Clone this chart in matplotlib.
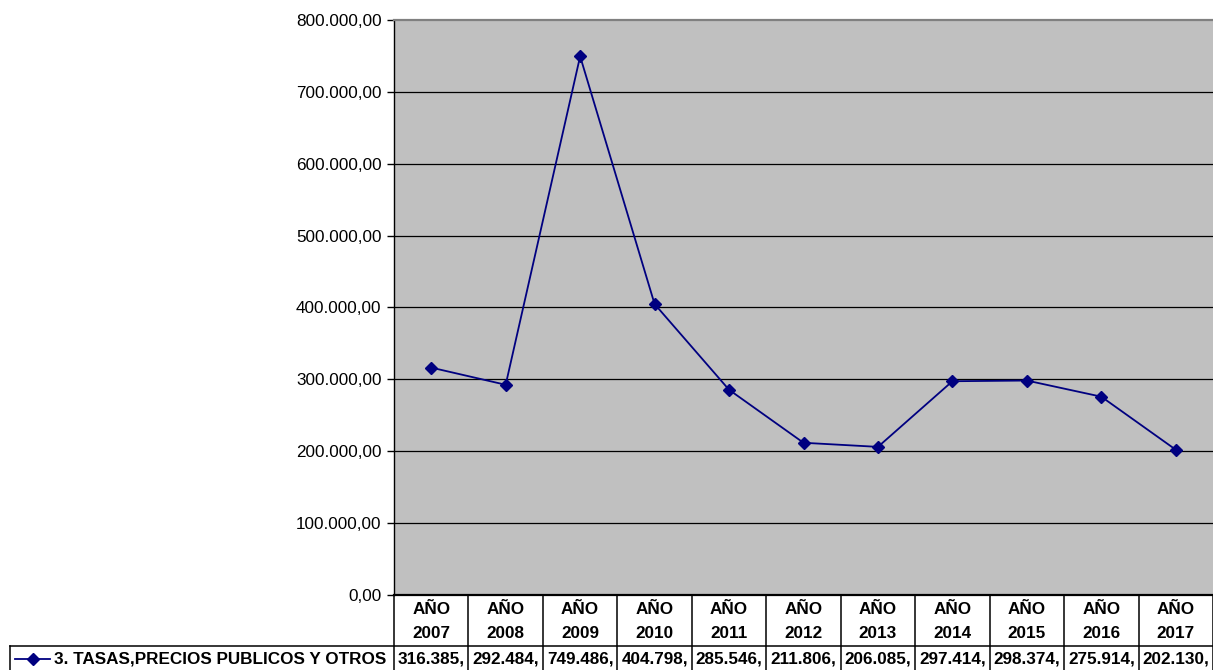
import matplotlib
matplotlib.use("Agg")
import matplotlib.pyplot as plt
from matplotlib.lines import Line2D
from matplotlib.ticker import FuncFormatter

plt.rcParams['font.family'] = ['Liberation Sans', 'DejaVu Sans']

years = ["2007", "2008", "2009", "2010", "2011", "2012", "2013", "2014", "2015", "2016", "2017"]
values = [316385, 292484, 749486, 404798, 285546, 211806, 206085, 297414, 298374, 275914, 202130]
series_name = "3. TASAS,PRECIOS PUBLICOS Y OTROS"
y_ticks = [0, 100000, 200000, 300000, 400000, 500000, 600000, 700000, 800000]

W, H = 1213, 670
FS = 12.3
fig = plt.figure(figsize=(W / 100, H / 100), dpi=100)

# plot area in pixel coordinates
left, right, top, bottom = 394, 1213, 20, 595
ax = fig.add_axes([left / W, 1 - bottom / H, (right - left) / W, (bottom - top) / H])
ax.set_facecolor("#C0C0C0")

x = list(range(len(years)))
ax.plot(x, values, color="#000080", lw=1.3, marker="D", ms=5.8,
        markerfacecolor="#000080", markeredgecolor="#000080", zorder=3)

ax.set_xlim(-0.5, len(years) - 0.5)
ax.set_ylim(0, 800000)
ax.set_yticks(y_ticks)


def es_fmt(v, pos):
    s = f"{v:,.2f}"
    return s.replace(",", "X").replace(".", ",").replace("X", ".")


ax.yaxis.set_major_formatter(FuncFormatter(es_fmt))
ax.tick_params(axis="y", direction="out", length=5, width=1, color="black",
               labelsize=FS, pad=4)
ax.set_xticks([])
for yv in y_ticks[1:-1]:
    ax.axhline(yv, color="black", lw=0.9, zorder=1)

ax.spines["top"].set_color("#808080")
ax.spines["top"].set_linewidth(1.6)
ax.spines["right"].set_visible(False)
ax.spines["left"].set_color("black")
ax.spines["left"].set_linewidth(1.0)
ax.spines["bottom"].set_color("black")
ax.spines["bottom"].set_linewidth(1.6)

# data table below the plot
def px(xp):
    return xp / W


def py(yp):
    return 1 - yp / H


col_w = (right - left) / len(years)
row_y = 646
line_kw = dict(color="black", lw=1.1, transform=fig.transFigure)

for i in range(len(years) + 1):
    xb = left + i * col_w
    fig.add_artist(Line2D([px(xb), px(xb)], [py(bottom), py(H)], **line_kw))
fig.add_artist(Line2D([px(10), px(right)], [py(row_y), py(row_y)], **line_kw))
fig.add_artist(Line2D([px(10), px(10)], [py(row_y), py(H)], **line_kw))

for i, (yr, v) in enumerate(zip(years, values)):
    xc = left + (i + 0.5) * col_w
    fig.text(px(xc), py(609), "AÑO", ha="center", va="center",
             fontsize=FS, fontweight="bold")
    fig.text(px(xc), py(633), yr, ha="center", va="center",
             fontsize=FS, fontweight="bold")
    lab = f"{v:,}".replace(",", ".") + ","
    fig.text(px(xc), py(659), lab, ha="center", va="center",
             fontsize=FS, fontweight="bold")

# legend key inside the table's label cell
fig.add_artist(Line2D([px(15), px(50)], [py(659), py(659)], color="#000080",
                      lw=1.3, transform=fig.transFigure))
fig.add_artist(Line2D([px(32.5)], [py(659)], color="#000080", marker="D", ms=5.8,
                      transform=fig.transFigure))
fig.text(px(54), py(659), series_name, ha="left", va="center",
         fontsize=FS, fontweight="bold")

fig.savefig("out.png", dpi=100)
